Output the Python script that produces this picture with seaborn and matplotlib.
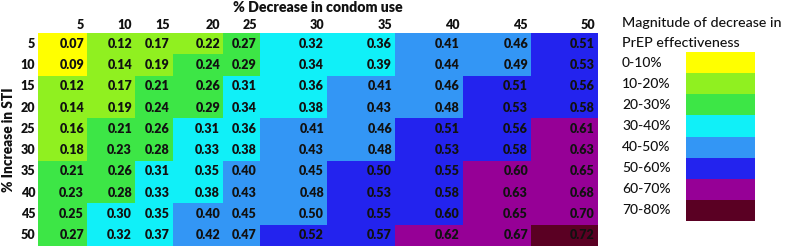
import numpy as np
import pandas as pd
import matplotlib
matplotlib.use("Agg")
import matplotlib.pyplot as plt
import seaborn as sns
from matplotlib.colors import ListedColormap

# ---------------- data ----------------
sti_increase = [5, 10, 15, 20, 25, 30, 35, 40, 45, 50]
condom_decrease = [5, 10, 15, 20, 25, 30, 35, 40, 45, 50]

values = [
    [0.07, 0.12, 0.17, 0.22, 0.27, 0.32, 0.36, 0.41, 0.46, 0.51],
    [0.09, 0.14, 0.19, 0.24, 0.29, 0.34, 0.39, 0.44, 0.49, 0.53],
    [0.12, 0.17, 0.21, 0.26, 0.31, 0.36, 0.41, 0.46, 0.51, 0.56],
    [0.14, 0.19, 0.24, 0.29, 0.34, 0.38, 0.43, 0.48, 0.53, 0.58],
    [0.16, 0.21, 0.26, 0.31, 0.36, 0.41, 0.46, 0.51, 0.56, 0.61],
    [0.18, 0.23, 0.28, 0.33, 0.38, 0.43, 0.48, 0.53, 0.58, 0.63],
    [0.21, 0.26, 0.31, 0.35, 0.40, 0.45, 0.50, 0.55, 0.60, 0.65],
    [0.23, 0.28, 0.33, 0.38, 0.43, 0.48, 0.53, 0.58, 0.63, 0.68],
    [0.25, 0.30, 0.35, 0.40, 0.45, 0.50, 0.55, 0.60, 0.65, 0.70],
    [0.27, 0.32, 0.37, 0.42, 0.47, 0.52, 0.57, 0.62, 0.67, 0.72],
]

# colour class of each cell (index into legend_labels)
categories = [
    [0, 1, 1, 1, 2, 3, 3, 4, 4, 5],
    [0, 1, 1, 2, 2, 3, 3, 4, 4, 5],
    [1, 1, 2, 2, 3, 3, 4, 4, 5, 5],
    [1, 1, 2, 2, 3, 3, 4, 4, 5, 5],
    [1, 2, 2, 3, 3, 4, 4, 5, 5, 6],
    [1, 2, 2, 3, 3, 4, 4, 5, 5, 6],
    [2, 2, 3, 3, 4, 4, 5, 5, 6, 6],
    [2, 2, 3, 3, 4, 4, 5, 5, 6, 6],
    [2, 3, 3, 4, 4, 4, 5, 5, 6, 6],
    [2, 3, 3, 4, 4, 5, 5, 6, 6, 7],
]

legend_labels = ["0-10%", "10-20%", "20-30%", "30-40%",
                 "40-50%", "50-60%", "60-70%", "70-80%"]
legend_colors = ["#FFFF00", "#90F020", "#3DE646", "#10F0F8",
                 "#3396F5", "#2323EE", "#960096", "#5A0023"]

# ---------------- layout ----------------
W, H = 787, 248
col_edges_px = np.array([38, 87, 135, 173, 223, 260, 327, 395, 463, 531, 598], float)
hm_top, hm_bottom = 33, 246
TXT = "#111111"
BOLD = "heavy"

sns.set_theme(style="white")
plt.rcParams["font.family"] = ["Lato", "DejaVu Sans"]

fig = plt.figure(figsize=(W / 100, H / 100), dpi=100)
left, right = col_edges_px[0], col_edges_px[-1]
ax = fig.add_axes([left / W, 1 - hm_bottom / H, (right - left) / W, (hm_bottom - hm_top) / H])

cmap = ListedColormap(legend_colors)
df = pd.DataFrame(categories, index=sti_increase, columns=condom_decrease)
sns.heatmap(df, ax=ax, cmap=cmap, vmin=-0.5, vmax=len(legend_colors) - 0.5,
            cbar=False, linewidths=0)

# non-uniform column widths via a piecewise-linear axis scale
n = len(condom_decrease)
idx = np.arange(n + 1, dtype=float)
pos = (col_edges_px - left) / (right - left) * n
s0 = pos[1] - pos[0]
s1 = pos[-1] - pos[-2]


def fwd(x):
    x = np.asarray(x, float)
    r = np.interp(x, idx, pos)
    r = np.where(x < 0, x * s0, r)
    r = np.where(x > n, n + (x - n) * s1, r)
    return r


def inv(y):
    y = np.asarray(y, float)
    r = np.interp(y, pos, idx)
    r = np.where(y < 0, y / s0, r)
    r = np.where(y > n, n + (y - n) / s1, r)
    return r


ax.set_xscale("function", functions=(fwd, inv))
ax.set_xlim(0, n)
ax.set_ylim(len(sti_increase), 0)

widths_px = np.diff(col_edges_px)
pad_px = 3.0
for i in range(len(sti_increase)):
    for j in range(n):
        ax.text(j + 1 - pad_px / widths_px[j], i + 0.5, f"{values[i][j]:.2f}",
                ha="right", va="center", fontsize=9, fontweight=BOLD, color=TXT)

ax.xaxis.tick_top()
ax.set_xticks([j + 1 - pad_px / widths_px[j] for j in range(n)])
ax.set_xticklabels([str(c) for c in condom_decrease], ha="right",
                   fontsize=9, fontweight=BOLD, color=TXT)
ax.set_yticks(np.arange(len(sti_increase)) + 0.5)
ax.set_yticklabels([str(s) for s in sti_increase], rotation=0,
                   fontsize=9, fontweight=BOLD, color=TXT)
ax.tick_params(axis="x", length=0, pad=1.5)
ax.tick_params(axis="y", length=0, pad=2)
ax.set_xlabel("")
ax.set_ylabel("% Increase in STI", fontsize=9.8, fontweight=BOLD, color=TXT, labelpad=4)

fig.text((left + right) / 2 / W, 1 - 7.5 / H, "% Decrease in condom use",
         ha="center", va="center", fontsize=10.2, fontweight=BOLD, color=TXT)

# ---------------- legend ----------------
sw_left, sw_right, sw_top, sw_bottom = 686, 755, 52, 221
lax = fig.add_axes([sw_left / W, 1 - sw_bottom / H, (sw_right - sw_left) / W,
                    (sw_bottom - sw_top) / H])
ldf = pd.DataFrame({"c": np.arange(len(legend_labels))}, index=legend_labels)
sns.heatmap(ldf, ax=lax, cmap=cmap, vmin=-0.5, vmax=len(legend_colors) - 0.5,
            cbar=False, xticklabels=False, yticklabels=True, linewidths=0)
lax.set_ylabel("")
lax.tick_params(axis="y", length=0, pad=(sw_left - 622) * 0.72)
for lbl in lax.get_yticklabels():
    lbl.set_ha("left")
    lbl.set_rotation(0)
    lbl.set_fontsize(10)
    lbl.set_fontweight("medium")
    lbl.set_color(TXT)

fig.text(622 / W, 1 - 23 / H, "Magnitude of decrease in", ha="left", va="center",
         fontsize=10.3, fontweight="medium", color=TXT)
fig.text(622 / W, 1 - 43 / H, "PrEP effectiveness", ha="left", va="center",
         fontsize=10.3, fontweight="medium", color=TXT)

fig.savefig("out.png", dpi=100)
